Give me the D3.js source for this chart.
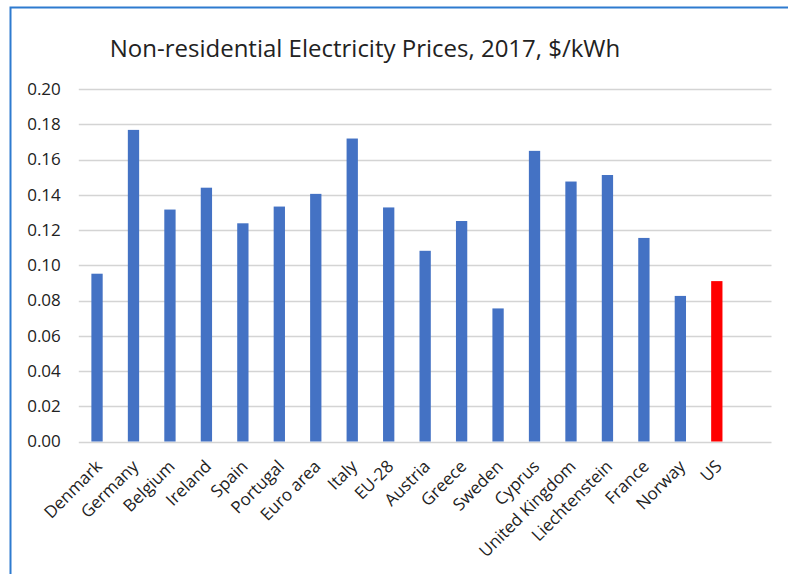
<!DOCTYPE html>
<html>
<head>
<meta charset="utf-8">
<script src="https://cdn.jsdelivr.net/npm/d3@7"></script>
<style>
  html, body { margin: 0; padding: 0; background: #fff; }
  svg { display: block; font-family: "Open Sans", sans-serif; }
</style>
</head>
<body>
<script>
const countries = ['Denmark', 'Germany', 'Belgium', 'Ireland', 'Spain', 'Portugal', 'Euro area',
    'Italy', 'EU-28', 'Austria', 'Greece', 'Sweden', 'Cyprus', 'United Kingdom',
    'Liechtenstein', 'France', 'Norway', 'US'];
const prices = [0.0952, 0.1768, 0.1316, 0.1440, 0.1238, 0.1333, 0.1405,
    0.1719, 0.1328, 0.1082, 0.1251, 0.0755, 0.1649, 0.1475,
    0.1512, 0.1155, 0.0826, 0.0910];
const yTicks = [0, 0.02, 0.04, 0.06, 0.08, 0.10, 0.12, 0.14, 0.16, 0.18, 0.20];
const title = 'Non-residential Electricity Prices, 2017, $/kWh';

const width = 788;
const height = 574;
const margin = { top: 89, right: 16.5, bottom: 132.5, left: 78.8 };

const data = countries.map((c, i) => ({ country: c, price: prices[i] }));

const svg = d3.select('body').append('svg')
    .attr('width', width)
    .attr('height', height);

// outer frame (blue line, runs off the right and bottom edges)
svg.append('rect')
    .attr('x', 10.5).attr('y', 7.5)
    .attr('width', 800).attr('height', 600)
    .attr('fill', 'none')
    .attr('stroke', '#2E7BCF')
    .attr('stroke-width', 2);

// one empty slot after the last category, like the source chart
const x = d3.scaleBand()
    .domain([...countries, ''])
    .range([margin.left, width - margin.right])
    .paddingInner(0.69)
    .paddingOuter(0.345);

const y = d3.scaleLinear()
    .domain([0, 0.2])
    .range([height - margin.bottom, margin.top]);

// gridlines
svg.append('g')
    .selectAll('line')
    .data(yTicks)
    .join('line')
    .attr('x1', margin.left)
    .attr('x2', width - margin.right)
    .attr('y1', d => Math.round(y(d)) + 0.5)
    .attr('y2', d => Math.round(y(d)) + 0.5)
    .attr('stroke', '#d4d4d4')
    .attr('stroke-width', 1.6);

// y axis labels
const yAxis = g => g
    .attr('transform', `translate(${margin.left},0)`)
    .call(d3.axisLeft(y).tickValues(yTicks).tickFormat(d3.format('.2f')).tickSize(0).tickPadding(18))
    .call(g => g.select('.domain').remove())
    .call(g => g.selectAll('text')
        .style('fill', '#222')
        .style('font-size', '17px')
        .style('font-family', '"Open Sans", sans-serif'));

svg.append('g').call(yAxis);

// bars
svg.append('g')
    .selectAll('rect')
    .data(data)
    .join('rect')
    .attr('x', d => x(d.country))
    .attr('y', d => y(d.price))
    .attr('width', x.bandwidth())
    .attr('height', d => y(0) - y(d.price))
    .attr('fill', d => d.country === 'US' ? '#FF0000' : '#4472C4');

// x labels, rotated
svg.append('g')
    .selectAll('text')
    .data(countries)
    .join('text')
    .attr('transform', d => `translate(${x(d) + x.bandwidth() / 2 + 6},${y(0) + 26}) rotate(-45)`)
    .attr('text-anchor', 'end')
    .style('font-size', '17px')
    .style('fill', '#222')
    .text(d => d);

// title
svg.append('text')
    .attr('x', 365)
    .attr('y', 57)
    .attr('text-anchor', 'middle')
    .style('font-size', '24px')
    .style('fill', '#222')
    .text(title);
</script>
</body>
</html>
